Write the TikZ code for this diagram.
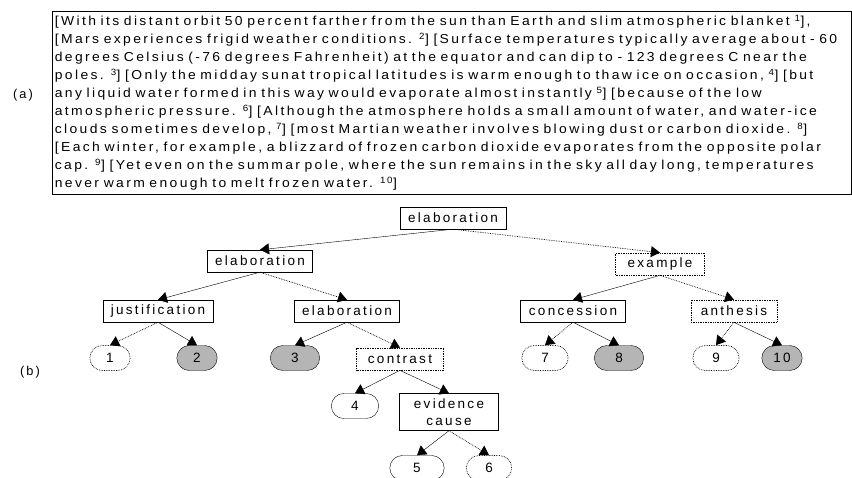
\documentclass[tikz,border=0pt]{standalone}
\usepackage{fontspec}
\setmainfont{Liberation Sans}[LetterSpace=17]
\usetikzlibrary{arrows.meta,shapes.misc}

\definecolor{leafgray}{gray}{0.71}
\newcommand{\pline}[1]{\mbox{#1}}
\newcommand{\passagefont}{\fontsize{13}{18}\selectfont\spaceskip=8pt\relax}

\tikzset{
  relbox/.style={draw, rectangle, inner xsep=6pt, minimum height=22pt,
    font=\fontsize{13.5}{16}\selectfont},
  nucbox/.style={relbox},
  satbox/.style={relbox, densely dotted, line width=0.7pt},
  leaf/.style={rounded rectangle, draw, minimum height=25pt, minimum width=48pt,
    font=\fontsize{13.5}{16}\selectfont},
  nucleaf/.style={leaf, fill=leafgray},
  plainleaf/.style={leaf},
  satleaf/.style={leaf, densely dotted, line width=0.7pt},
  nucedge/.style={-{Triangle[length=9pt,width=11pt]}},
  satedge/.style={nucedge, densely dotted, line width=0.7pt},
}

\begin{document}
\begin{tikzpicture}[x=1pt,y=-1pt]
  \useasboundingbox (0,0) rectangle (852,477);

  % (a) the text
  \node[font=\fontsize{12.8}{18}\selectfont] (lbla) at (23,95) {(a)};
  \node[draw, anchor=north west, xscale=1.07, transform shape,
        inner xsep=2.5pt, inner ysep=4pt, text width=741.7pt,
        align=left, minimum height=182pt, font=\passagefont]
    (passage) at (52,11) {%
    \pline{[With its distant orbit 50 percent farther from the sun than Earth and slim atmospheric blanket \textsuperscript{1}],}\\
    \pline{[Mars experiences frigid weather conditions. \textsuperscript{2}] [Surface temperatures typically average about - 60}\\
    \pline{degrees Celsius (-76 degrees Fahrenheit) at the equator and can dip to - 123 degrees C near the}\\
    \pline{poles. \textsuperscript{3}] [Only the midday sunat tropical latitudes is warm enough to thaw ice on occasion, \textsuperscript{4}] [but}\\
    \pline{any liquid water formed in this way would evaporate almost instantly \textsuperscript{5}] [because of the low}\\
    \pline{atmospheric pressure. \textsuperscript{6}] [Although the atmosphere holds a small amount of water, and water-ice}\\
    \pline{clouds sometimes develop, \textsuperscript{7}] [most Martian weather involves blowing dust or carbon dioxide. \textsuperscript{8}]}\\
    \pline{[Each winter, for example, a blizzard of frozen carbon dioxide evaporates from the opposite polar}\\
    \pline{cap. \textsuperscript{9}] [Yet even on the summar pole, where the sun remains in the sky all day long, temperatures}\\
    \pline{never warm enough to melt frozen water. \textsuperscript{10}]}};

  % (b) the tree
  \node[font=\fontsize{12.8}{18}\selectfont] (lblb) at (30,372) {(b)};

  \node[nucbox, minimum width=106pt] (top) at (453,218) {elaboration};
  \node[nucbox, minimum width=105pt] (elabL) at (260,261) {elaboration};
  \node[satbox, minimum width=89pt] (example) at (660,264) {example};
  \node[nucbox, minimum width=110pt] (just) at (158,311) {justification};
  \node[nucbox, minimum width=105pt] (elabR) at (347,311) {elaboration};
  \node[nucbox, minimum width=105pt] (conc) at (573,311) {concession};
  \node[satbox, minimum width=86pt] (anth) at (734,311) {anthesis};
  \node[satbox, minimum width=87pt] (contrast) at (400,359) {contrast};
  \node[nucbox, align=center, minimum width=99pt, minimum height=37pt,
        font=\fontsize{13.5}{17}\selectfont] (evid) at (449,412) {evidence\\cause};

  \foreach \n/\x/\w/\s in {1/110/47/satleaf, 2/197/47/nucleaf, 3/295/56/nucleaf,
                           7/545/53/satleaf, 8/619/56/nucleaf, 9/716/53/satleaf,
                           10/782/47/nucleaf}
    \node[\s, minimum width=\w pt] (n\n) at (\x,358) {\n};
  \node[plainleaf, minimum width=54pt] (n4) at (355,406) {4};
  \node[plainleaf, minimum width=61pt] (n5) at (417,468) {5};
  \node[satleaf, minimum width=52pt] (n6) at (489,468) {6};

  \foreach \a/\b in {top/elabL, elabL/just, just/n2, elabR/n3, contrast/n4,
                     contrast/evid, evid/n5, example/conc, conc/n8, anth/n10}
    \draw[nucedge] (\a.south) -- (\b.north);
  \foreach \a/\b in {top/example, elabL/elabR, just/n1, elabR/contrast,
                     evid/n6, example/anth, conc/n7, anth/n9}
    \draw[satedge] (\a.south) -- (\b.north);
\end{tikzpicture}
\end{document}
